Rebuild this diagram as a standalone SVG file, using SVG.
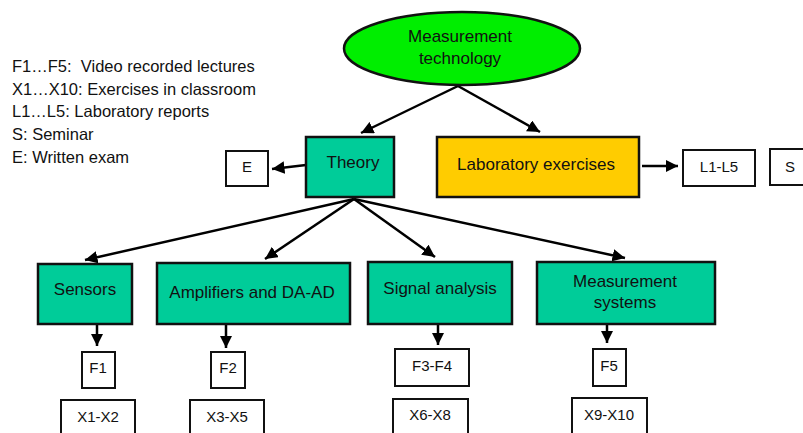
<svg xmlns="http://www.w3.org/2000/svg" width="803" height="433" viewBox="0 0 803 433">
<defs>
<marker id="ah" viewBox="0 0 10 10" refX="10" refY="5" markerWidth="5" markerHeight="5" markerUnits="strokeWidth" orient="auto">
<path d="M0,0 L10,5 L0,10 z" fill="#000"/>
</marker>
<style>
text{font-family:"Liberation Sans",Arial,sans-serif;fill:#111;}
.lg{font-size:16.5px;}
.t{font-size:17px;text-anchor:middle;}
.s{font-size:15px;text-anchor:middle;}
.g{fill:#00CC99;stroke:#111;stroke-width:2.5;}
.y{fill:#FFCC00;stroke:#111;stroke-width:2.5;}
.w{fill:#fff;stroke:#111;stroke-width:2;}
.c line{stroke:#000;stroke-width:2.5;marker-end:url(#ah);}
</style>
</defs>
<rect width="803" height="433" fill="#fff"/>
<g id="legend">
<text class="lg" x="12" y="72" xml:space="preserve">F1…F5:  Video recorded lectures</text>
<text class="lg" x="12" y="95">X1…X10: Exercises in classroom</text>
<text class="lg" x="12" y="117">L1…L5: Laboratory reports</text>
<text class="lg" x="12" y="140">S: Seminar</text>
<text class="lg" x="12" y="163">E: Written exam</text>
</g>
<g class="c" id="connectors">
<line x1="458" y1="86" x2="361" y2="133"/>
<line x1="458" y1="86" x2="540" y2="132"/>
<line x1="306" y1="165" x2="272" y2="169"/>
<line x1="642" y1="166" x2="678" y2="166"/>
<line x1="354" y1="199" x2="85" y2="260"/>
<line x1="354" y1="199" x2="265" y2="259"/>
<line x1="354" y1="199" x2="435" y2="257"/>
<line x1="354" y1="199" x2="625" y2="258"/>
<line x1="97" y1="325" x2="97" y2="346"/>
<line x1="226" y1="325" x2="226" y2="348"/>
<line x1="438" y1="324" x2="438" y2="345"/>
<line x1="607" y1="324" x2="607" y2="343"/>
</g>
<g id="root">
<ellipse cx="462" cy="48.5" rx="118" ry="36.5" fill="#00EE00" stroke="#111" stroke-width="2.5"/>
<text class="t" x="460" y="42">Measurement</text>
<text class="t" x="460" y="64">technology</text>
</g>
<g id="theory"><rect class="g" x="306" y="137" width="88" height="60"/><text class="t" x="353" y="168">Theory</text></g>
<g id="lab"><rect class="y" x="437" y="137" width="202" height="60"/><text class="t" x="536" y="170">Laboratory exercises</text></g>
<g id="e"><rect class="w" x="226" y="151" width="42" height="35"/><text class="s" x="247" y="172">E</text></g>
<g id="l1l5"><rect class="w" x="683" y="150" width="72" height="36"/><text class="s" x="719" y="172">L1-L5</text></g>
<g id="s"><rect class="w" x="770" y="149" width="34" height="36"/><text class="s" x="790" y="172">S</text></g>
<g id="sensors"><rect class="g" x="38" y="264" width="94" height="60"/><text class="t" x="85" y="295">Sensors</text></g>
<g id="amplifiers"><rect class="g" x="157" y="263" width="193" height="61"/><text class="t" x="252" y="298">Amplifiers and DA-AD</text></g>
<g id="signal"><rect class="g" x="368" y="262" width="144" height="62"/><text class="t" x="440" y="294">Signal analysis</text></g>
<g id="meassys"><rect class="g" x="537" y="262" width="178" height="62"/><text class="t" x="625" y="287">Measurement</text><text class="t" x="625" y="308">systems</text></g>
<g id="f1"><rect class="w" x="82" y="352" width="33" height="36"/><text class="s" x="98" y="373">F1</text></g>
<g id="f2"><rect class="w" x="211" y="352" width="34" height="36"/><text class="s" x="228" y="373">F2</text></g>
<g id="f3f4"><rect class="w" x="395" y="349" width="74" height="37"/><text class="s" x="432" y="371">F3-F4</text></g>
<g id="f5"><rect class="w" x="593" y="349" width="33" height="37"/><text class="s" x="609" y="371">F5</text></g>
<g id="x1x2"><rect class="w" x="61" y="400" width="74" height="40"/><text class="s" x="98" y="422">X1-X2</text></g>
<g id="x3x5"><rect class="w" x="190" y="400" width="74" height="40"/><text class="s" x="227" y="422">X3-X5</text></g>
<g id="x6x8"><rect class="w" x="393" y="399" width="75" height="40"/><text class="s" x="430" y="420">X6-X8</text></g>
<g id="x9x10"><rect class="w" x="572" y="398" width="75" height="40"/><text class="s" x="609" y="420">X9-X10</text></g>
</svg>
